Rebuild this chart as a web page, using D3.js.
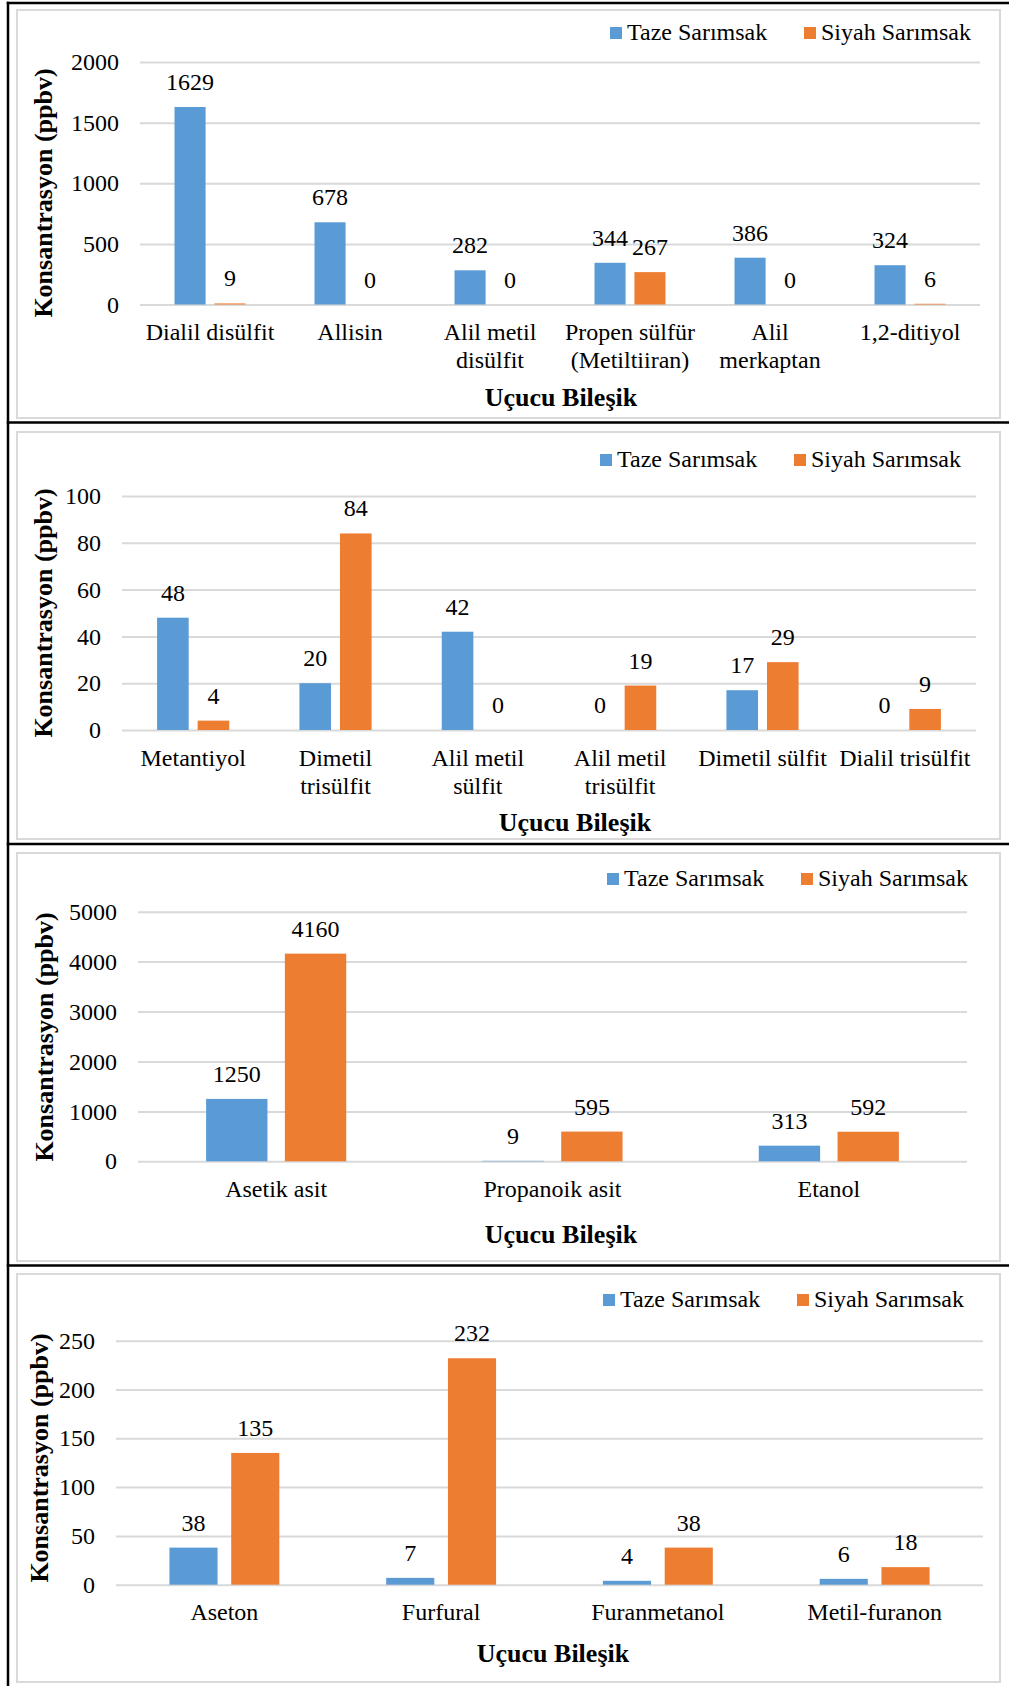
<!DOCTYPE html>
<html>
<head>
<meta charset="utf-8">
<script src="https://cdn.jsdelivr.net/npm/d3@7"></script>
<style>
  html, body { margin: 0; padding: 0; background: #fff; }
  svg { display: block; }
</style>
</head>
<body>
<svg id="fig" width="1009" height="1686"></svg>
<script>
// ---- Data: volatile compounds, fresh vs. black garlic (ppbv) ----
const seriesNames = ["Taze Sarımsak", "Siyah Sarımsak"];

// Chart 1 – sulfur compounds (high range)
const cats1 = [["Dialil disülfit"], ["Allisin"], ["Alil metil", "disülfit"],
               ["Propen sülfür", "(Metiltiiran)"], ["Alil", "merkaptan"], ["1,2-ditiyol"]];
const taze1 = [1629, 678, 282, 344, 386, 324];
const siyah1 = [9, 0, 0, 267, 0, 6];
const ticks1 = [0, 500, 1000, 1500, 2000];

// Chart 2 – sulfur compounds (low range)
const cats2 = [["Metantiyol"], ["Dimetil", "trisülfit"], ["Alil metil", "sülfit"],
               ["Alil metil", "trisülfit"], ["Dimetil sülfit"], ["Dialil trisülfit"]];
const taze2 = [48, 20, 42, 0, 17, 0];
const siyah2 = [4, 84, 0, 19, 29, 9];
const ticks2 = [0, 20, 40, 60, 80, 100];

// Chart 3 – acids and alcohol
const cats3 = [["Asetik asit"], ["Propanoik asit"], ["Etanol"]];
const taze3 = [1250, 9, 313];
const siyah3 = [4160, 595, 592];
const ticks3 = [0, 1000, 2000, 3000, 4000, 5000];

// Chart 4 – ketones and furans
const cats4 = [["Aseton"], ["Furfural"], ["Furanmetanol"], ["Metil-furanon"]];
const taze4 = [38, 7, 4, 6];
const siyah4 = [135, 232, 38, 18];
const ticks4 = [0, 50, 100, 150, 200, 250];

const yTitle = "Konsantrasyon (ppbv)";
const xTitle = "Uçucu Bileşik";

// ---- Layout of the four stacked panels ----
const panels = [
  { cats: cats1, taze: taze1, siyah: siyah1, ticks: ticks1,
    box: [10, 418], plot: [140, 980], y0: 304.5, yTop: 62,
    yTitle: [52, 193], xTitleX: 561, xTitleDy: 101, legend: [610, 27] },
  { cats: cats2, taze: taze2, siyah: siyah2, ticks: ticks2,
    box: [432, 839], plot: [122, 976], y0: 730, yTop: 496,
    yTitle: [52, 613], xTitleX: 575, xTitleDy: 100.5, legend: [600, 454] },
  { cats: cats3, taze: taze3, siyah: siyah3, ticks: ticks3,
    box: [853, 1261], plot: [138, 967], y0: 1161.3, yTop: 911.7,
    yTitle: [53, 1037], xTitleX: 561, xTitleDy: 82, legend: [607, 873] },
  { cats: cats4, taze: taze4, siyah: siyah4, ticks: ticks4,
    box: [1274, 1682], plot: [116, 983], y0: 1584.7, yTop: 1340.7,
    yTitle: [48, 1458], xTitleX: 553, xTitleDy: 77, legend: [603, 1294] }
];

const FONT = '"Liberation Serif", "Times New Roman", Times, serif';
const colors = ["#5B9BD5", "#ED7D31"];
const gridColor = "#D9D9D9";
const svg = d3.select("#fig");

svg.append("rect").attr("width", 1009).attr("height", 1686).attr("fill", "#fff");

panels.forEach(p => {
  const g = svg.append("g");

  // light chart-area frame
  g.append("rect")
    .attr("x", 17).attr("y", p.box[0])
    .attr("width", 983).attr("height", p.box[1] - p.box[0])
    .attr("fill", "#fff").attr("stroke", gridColor).attr("stroke-width", 2);

  const idx = p.cats.map((_, i) => i);
  const x = d3.scaleBand().domain(idx).range(p.plot).paddingInner(0).paddingOuter(0);
  const y = d3.scaleLinear().domain([0, p.ticks[p.ticks.length - 1]]).range([p.y0, p.yTop]);
  const w = p.plot[1] - p.plot[0];

  // value axis with gridlines
  const ax = g.append("g")
    .attr("transform", `translate(${p.plot[0]},0)`)
    .call(d3.axisLeft(y).tickValues(p.ticks).tickSizeInner(-w).tickSizeOuter(0).tickPadding(21)
      .tickFormat(d3.format("d")));
  ax.attr("font-family", FONT).attr("font-size", 24);
  ax.select(".domain").remove();
  ax.selectAll(".tick line").attr("stroke", gridColor).attr("stroke-width", 2);
  ax.selectAll(".tick text")
    .attr("font-family", FONT).attr("font-size", 24).attr("fill", "#000");

  // bars
  const bw = x.bandwidth() * 0.222;
  const gap = x.bandwidth() * 0.063;
  const series = [p.taze, p.siyah];
  series.forEach((vals, s) => {
    const xpos = i => x(i) + x.bandwidth() / 2 + (s === 0 ? -gap / 2 - bw : gap / 2);
    g.append("g").selectAll("rect").data(vals).join("rect")
      .attr("x", (d, i) => xpos(i))
      .attr("y", d => y(d))
      .attr("width", bw)
      .attr("height", d => y(0) - y(d))
      .attr("fill", colors[s]);
    g.append("g").selectAll("text").data(vals).join("text")
      .attr("x", (d, i) => xpos(i) + bw / 2)
      .attr("y", d => y(d) - 17)
      .attr("text-anchor", "middle")
      .attr("font-family", FONT).attr("font-size", 24).attr("fill", "#000")
      .text(d => d);
  });

  // category labels (possibly two lines)
  const cl = g.append("g").selectAll("text").data(p.cats).join("text")
    .attr("text-anchor", "middle")
    .attr("font-family", FONT).attr("font-size", 24).attr("fill", "#000");
  cl.each(function (lines, i) {
    d3.select(this).selectAll("tspan").data(lines).join("tspan")
      .attr("x", x(i) + x.bandwidth() / 2)
      .attr("y", (d, k) => p.y0 + 35.5 + k * 28)
      .text(d => d);
  });

  // axis titles
  g.append("text")
    .attr("x", p.xTitleX).attr("y", p.y0 + p.xTitleDy)
    .attr("text-anchor", "middle")
    .attr("font-family", FONT).attr("font-size", 26).attr("font-weight", "bold")
    .text(xTitle);
  g.append("text")
    .attr("transform", `translate(${p.yTitle[0]},${p.yTitle[1]}) rotate(-90)`)
    .attr("text-anchor", "middle")
    .attr("font-family", FONT).attr("font-size", 26).attr("font-weight", "bold")
    .text(yTitle);

  // legend
  const lg = g.append("g").attr("transform", `translate(${p.legend[0]},${p.legend[1]})`);
  seriesNames.forEach((name, s) => {
    lg.append("rect").attr("x", s * 194).attr("y", 0).attr("width", 12).attr("height", 12)
      .attr("fill", colors[s]);
    lg.append("text").attr("x", s * 194 + 17).attr("y", 13)
      .attr("font-family", FONT).attr("font-size", 24).attr("fill", "#000")
      .text(name);
  });
});

// black table rules around and between the panels
const rules = svg.append("g").attr("stroke", "#000").attr("stroke-width", 2.5);
rules.append("line").attr("x1", 8).attr("x2", 8).attr("y1", 1.8).attr("y2", 1686);
[3, 422.5, 844, 1265.5].forEach(yy => {
  rules.append("line").attr("x1", 6.75).attr("x2", 1009).attr("y1", yy).attr("y2", yy);
});
</script>
</body>
</html>
